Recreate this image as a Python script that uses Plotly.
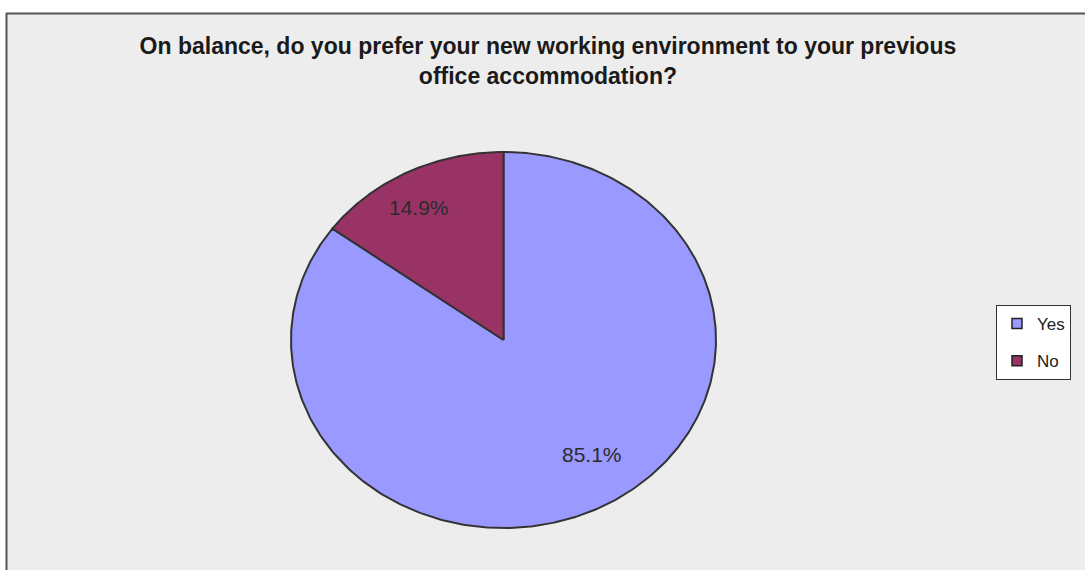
import numpy as np
import plotly.graph_objects as go

# Survey answers and their shares (%)
categories = ["Yes", "No"]
shares = [85.1, 14.9]
colors = ["#9999FF", "#993366"]

title_text = ("On balance, do you prefer your new working environment to your previous<br>"
              "office accommodation?")

W, H = 1085, 570
# pie centre and radii in pixels; the axes are scaled so the pie is a unit ellipse
cx, cy, rx, ry = 503.5, 340.0, 212.5, 188.0
x_range = [-cx / rx, (W - cx) / rx]
y_range = [-(H - cy) / ry, cy / ry]

fig = go.Figure()

# slices run clockwise from 12 o'clock
total = sum(shares)
start = 0.0
label_pts = []
for name, val, col in zip(categories, shares, colors):
    sweep = 360.0 * val / total
    ang = np.radians(np.linspace(start, start + sweep, 400))
    xs = np.concatenate([[0], np.sin(ang), [0]])
    ys = np.concatenate([[0], np.cos(ang), [0]])
    fig.add_trace(go.Scatter(
        x=xs, y=ys, mode="lines", fill="toself", fillcolor=col,
        line=dict(color="#333333", width=2), showlegend=False,
        hoverinfo="skip"))
    mid = np.radians(start + sweep / 2)
    label_pts.append((np.sin(mid), np.cos(mid), val))
    start += sweep

# percentage labels inside the slices
label_r = [0.76, 0.80]
nudge = [(16, 13), (-8, -2)]
for (sx, sy, val), r, (dx, dy) in zip(label_pts, label_r, nudge):
    fig.add_annotation(x=sx * r, y=sy * r, text=f"{val:.1f}%", showarrow=False,
                       xshift=dx, yshift=dy,
                       font=dict(family="Liberation Sans, Arial", size=21, color="#2b2b2b"))

# legend entries
for name, col in zip(categories, colors):
    fig.add_trace(go.Scatter(
        x=[None], y=[None], mode="markers", name=name, legendgroup=name,
        marker=dict(symbol="square", size=10, color=col,
                    line=dict(color="#222222", width=1.5))))

fig.update_layout(
    width=W, height=H,
    margin=dict(l=0, r=0, t=0, b=0),
    paper_bgcolor="white",
    plot_bgcolor="rgba(0,0,0,0)",
    title=dict(text=title_text, x=0.505, xanchor="center", y=1 - 54 / H, yanchor="top",
               font=dict(family="Liberation Sans, Arial", size=23, color="#1a1a1a",
                         weight="bold")),
    xaxis=dict(range=x_range, visible=False, fixedrange=True, domain=[0, 1]),
    yaxis=dict(range=y_range, visible=False, fixedrange=True, domain=[0, 1]),
    legend=dict(x=996 / W, y=1 - 305 / H, xanchor="left", yanchor="top",
                bgcolor="white", bordercolor="#333333", borderwidth=1,
                font=dict(family="Liberation Sans, Arial", size=17, color="#222222"),
                itemwidth=30, tracegroupgap=12),
    shapes=[dict(type="rect", xref="paper", yref="paper", layer="below",
                 x0=6.5 / W, x1=1.01, y0=-0.01, y1=1 - 13.5 / H,
                 fillcolor="#EDEDED", line=dict(color="#555555", width=2))],
)

fig.write_html("out.html")
